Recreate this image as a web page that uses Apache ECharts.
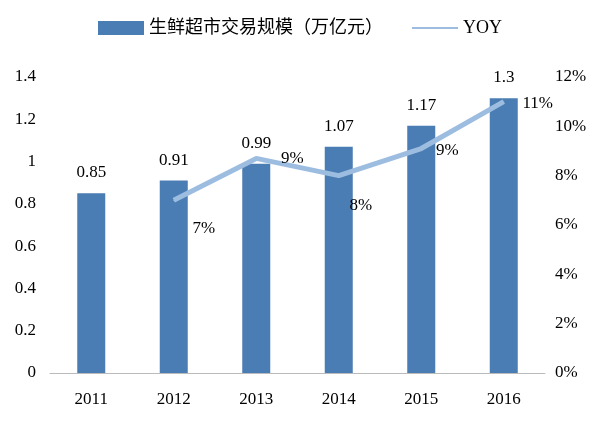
<!DOCTYPE html>
<html><head><meta charset="utf-8">
<script src="https://cdn.jsdelivr.net/npm/echarts@6/dist/echarts.min.js"></script>
<style>html,body{margin:0;background:#fff}#c{width:600px;height:427px}</style>
</head><body><div id="c"></div>
<script>
var years = ['2011', '2012', '2013', '2014', '2015', '2016'];
var scale = [0.85, 0.91, 0.99, 1.07, 1.17, 1.3];
var yoy = [null, 7.0, 8.7, 8.0, 9.1, 11.0];
var yoyLabels = ['', '7%', '9%', '8%', '9%', '11%'];
// label offsets relative to each YOY point
var yoyLabelOffsets = [[0, 0], [30, 28], [36, 0], [22, 30], [26, 2], [34, 2]];

var font = 'Liberation Serif';
var yoyData = yoy.map(function (v, i) {
    return { value: v, label: { offset: yoyLabelOffsets[i] } };
});
var chart = echarts.init(document.getElementById('c'));
chart.setOption({
    textStyle: { fontFamily: font },
    legend: {
        top: 14, left: 'center', itemGap: 28, itemWidth: 46, itemHeight: 14,
        textStyle: { fontSize: 18, color: '#000', fontFamily: font + ', Noto Sans CJK SC' },
        data: [{ name: '生鲜超市交易规模（万亿元）', icon: 'rect' },
               { name: 'YOY', itemStyle: { opacity: 0 } }]
    },
    grid: { left: 50, right: 55, top: 77, bottom: 54 },
    xAxis: {
        type: 'category', data: years,
        axisTick: { show: false },
        axisLine: { lineStyle: { color: '#bbb' } },
        axisLabel: { color: '#000', fontSize: 17, margin: 18, fontFamily: font }
    },
    yAxis: [{
        type: 'value', min: 0, max: 1.4, interval: 0.2,
        splitLine: { show: false }, axisLine: { show: false }, axisTick: { show: false },
        axisLabel: { color: '#000', fontSize: 17, margin: 14, fontFamily: font,
            formatter: function (v) { return +v.toFixed(1) + ''; } }
    }, {
        type: 'value', min: 0, max: 12, interval: 2,
        splitLine: { show: false }, axisLine: { show: false }, axisTick: { show: false },
        axisLabel: { color: '#000', fontSize: 17, margin: 10, fontFamily: font, formatter: '{value}%' }
    }],
    series: [{
        name: '生鲜超市交易规模（万亿元）', type: 'bar', data: scale, barWidth: 28,
        itemStyle: { color: '#4a7db4' },
        label: { show: true, position: 'top', distance: 12, color: '#000', fontSize: 17, fontFamily: font }
    }, {
        name: 'YOY', type: 'line', yAxisIndex: 1, data: yoyData,
        symbol: 'circle', symbolSize: 1, showSymbol: true,
        lineStyle: { color: '#9dbde0', width: 5 }, itemStyle: { color: '#9dbde0' },
        label: { show: true, position: 'inside', color: '#000', fontSize: 17, fontFamily: font,
            formatter: function (p) { return yoyLabels[p.dataIndex]; } }
    }]
});
</script></body></html>
